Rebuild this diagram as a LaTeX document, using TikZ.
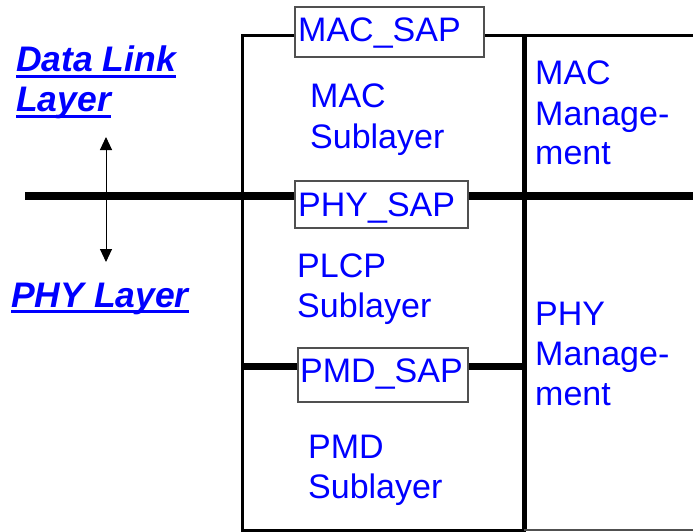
\documentclass[tikz,border=0pt]{standalone}
\usepackage{fontspec}
\setmainfont{Liberation Sans}
\usetikzlibrary{arrows.meta}
\definecolor{txtblue}{RGB}{0,0,255}
\definecolor{sapgray}{RGB}{80,80,80}
\newcommand\ulthick[1]{\leavevmode\setbox0\hbox{#1}\rlap{\rule[-6.2pt]{\wd0}{2.8pt}}\box0}
\tikzset{
  lbl/.style={text=txtblue, font=\fontsize{34}{40}\selectfont, inner sep=0pt, anchor=base west, text width=170pt, align=left},
  sidelbl/.style={text=txtblue, font=\fontsize{35.5}{40}\selectfont\bfseries\itshape, inner sep=0pt, anchor=base west},
  saptext/.style={text=txtblue, font=\fontsize{34}{40}\selectfont, inner sep=0pt, anchor=base west},
  sapbox/.style={draw=sapgray, line width=1.5pt, fill=white, inner sep=0pt},
  frame/.style={line width=3pt, line cap=rect},
  thick bar/.style={line width=8pt},
}
\begin{document}
\begin{tikzpicture}[x=1pt,y=-1pt]
\useasboundingbox (0,0) rectangle (693,532);
% coordinates
\coordinate (tl) at (242,36);
\coordinate (tm) at (524,36);
\coordinate (tr) at (693,36);
\coordinate (bl) at (242,530);
\coordinate (bm) at (524,530);
\coordinate (br) at (693,530);
\coordinate (phyL) at (25,196);
\coordinate (phyR) at (693,196);
\coordinate (pmdL) at (242,366);
\coordinate (pmdR) at (524,366);
% frame lines
\draw[frame] (tl) -- (tr);
\draw[frame] (tl) -- (bl) -- (bm);
\draw[line width=5pt] (tm) -- (bm);
\draw[line width=1.2pt, draw=sapgray] (bm) -- (br);
\draw[thick bar] (phyL) -- (phyR);
\draw[line width=7pt] (pmdL) -- (pmdR);
% SAP boxes
\node[sapbox, minimum width=189pt, minimum height=50pt] (macsap) at (389.5,32) {};
\node[saptext] (macsaptxt) at (298,42) {MAC\_SAP};
\node[sapbox, minimum width=173pt, minimum height=47pt] (physap) at (381.5,204.5) {};
\node[saptext] (physaptxt) at (298,216) {PHY\_SAP};
\node[sapbox, minimum width=170pt, minimum height=54pt] (pmdsap) at (383,375) {};
\node[saptext] (pmdsaptxt) at (300,382) {PMD\_SAP};
% sublayer labels
\node[lbl] (macsub) at (310,108) {MAC\\Sublayer};
\node[lbl] (macman) at (535,85) {MAC\\Manage-\\ment};
\node[lbl] (plcp) at (297,277) {PLCP\\Sublayer};
\node[lbl] (phyman) at (535,325) {PHY\\Manage-\\ment};
\node[lbl] (pmdsub) at (308,458) {PMD\\Sublayer};
% side labels
\node[sidelbl] (dll1) at (16,72) {\ulthick{Data Link}};
\node[sidelbl] (dll2) at (16,112) {\ulthick{Layer}};
\node[sidelbl] (phyl) at (11,307) {\ulthick{PHY Layer}};
% double arrow
\coordinate (aTop) at (106,137);
\coordinate (aBot) at (106,262);
\draw[line width=1pt, {Triangle[length=13pt,width=12pt]}-{Triangle[length=13pt,width=12pt]}] (aTop) -- (aBot);
\end{tikzpicture}
\end{document}
